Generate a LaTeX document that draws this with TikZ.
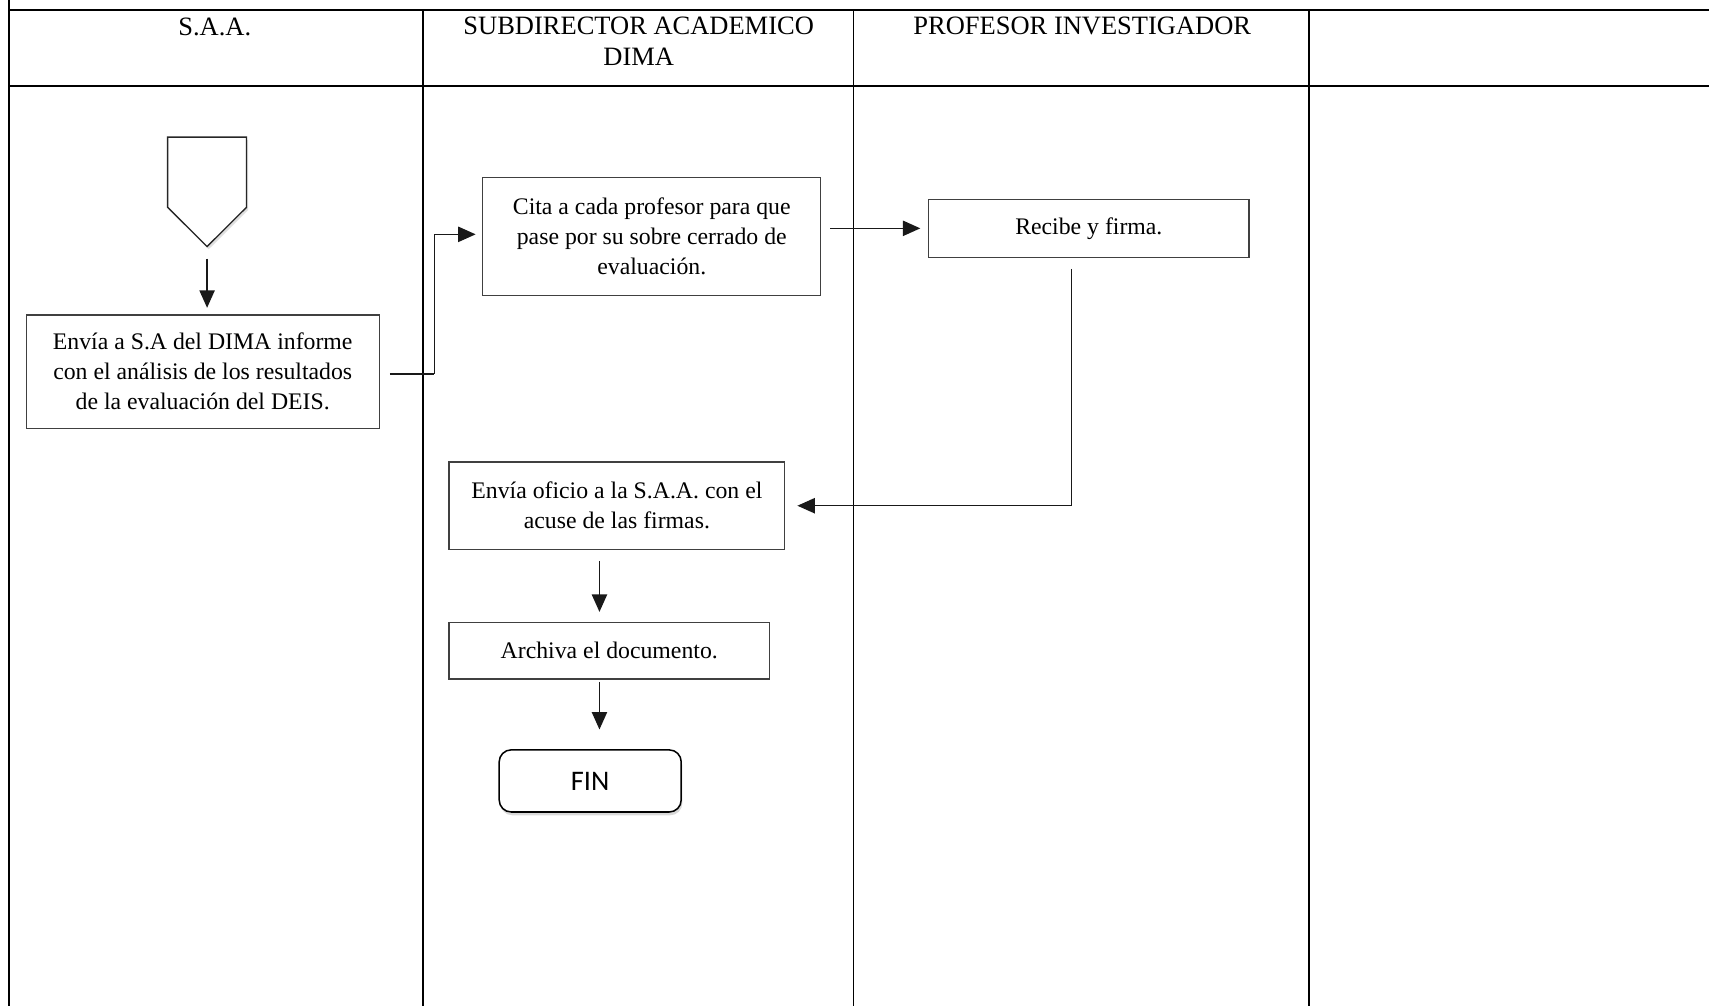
\documentclass[tikz,border=0pt]{standalone}
\usepackage{fontspec}
\setmainfont{Liberation Serif}
\newfontfamily\calibrifont{Carlito}
\usetikzlibrary{arrows.meta,shadows}
\begin{document}
\begin{tikzpicture}[x=1pt,y=1pt,
  grid/.style={line width=1.6pt,black},
  lane/.style={line width=1.2pt,black},
  procbox/.style={draw=black!75,line width=1.2pt,rectangle,align=center,
    font=\fontsize{21.8}{27.5}\selectfont,inner sep=0pt},
  head/.style={align=center,font=\fontsize{24.3}{28}\selectfont,anchor=north,inner sep=0pt},
  arr/.style={draw=black!90,line width=1.3pt,-{Triangle[length=16pt,width=14pt]}},
  link/.style={draw=black!90,line width=1.3pt}]

% page frame and margins
\useasboundingbox (0,0) rectangle (1568,-923);

% lane grid
\draw[grid] (8,0) -- (8,-923);
\draw[grid] (8,-9) -- (1568,-9);
\draw[grid] (8,-79) -- (1568,-79);
\draw[lane] (388,-9) -- (388,-923);
\draw[lane] (783,-9) -- (783,-923);
\draw[grid] (1201,-9) -- (1201,-923);

% lane titles
\node[head] (h1) at (197,-16) {S.A.A.};
\node[head] (h2) at (586,-15.5) {SUBDIRECTOR ACADEMICO\\DIMA};
\node[head] (h3) at (993,-15.5) {PROFESOR INVESTIGADOR};

% off-page connector
\node[minimum width=72pt,minimum height=100pt,inner sep=0pt] (off) at (190,-176) {};
\filldraw[fill=white,draw=black!85,line width=1.2pt,
  drop shadow={opacity=0.25,shadow xshift=1.5pt,shadow yshift=-2.5pt}]
  (off.north west) -- (off.north east) -- ([yshift=36pt]off.south east)
  -- (off.south) -- ([yshift=36pt]off.south west) -- cycle;

% process steps
\node[procbox,minimum width=324pt,minimum height=104pt] (b1) at (186,-341)
  {Envía a S.A del DIMA informe\\con el análisis de los resultados\\de la evaluación del DEIS.};
\node[procbox,minimum width=310pt,minimum height=108pt] (b2) at (598,-217)
  {Cita a cada profesor para que\\pase por su sobre cerrado de\\evaluación.};
\node[procbox,minimum width=294pt,minimum height=53pt] (b3) at (999,-209.5)
  {Recibe y firma.};
\node[procbox,minimum width=308pt,minimum height=80pt] (b4) at (566,-464)
  {Envía oficio a la S.A.A. con el\\acuse de las firmas.};
\node[procbox,minimum width=294pt,minimum height=52pt] (b5) at (559,-597)
  {Archiva el documento.};
\node[draw=black,line width=1.4pt,rounded corners=11pt,fill=white,
  minimum width=167pt,minimum height=57pt,inner sep=0pt,
  font=\calibrifont\fontsize{26}{28}\selectfont,
  drop shadow={opacity=0.3,shadow xshift=1pt,shadow yshift=-3pt}] (fin) at (541.5,-716.5) {FIN};

% connectors
\draw[arr,shorten <=11pt,shorten >=6pt] (off.south) -- (off.south |- b1.north);
\draw[link] ([xshift=9pt,yshift=-2pt]b1.east) -- ++(41,0) coordinate (k1);
\draw[arr] (k1) |- ([xshift=-6pt,yshift=2pt]b2.west);
\draw[arr,shorten <=8pt,shorten >=7pt] (b3.west -| b2.east) -- (b3.west);
\draw[arr] ([xshift=-16pt,yshift=-10pt]b3.south) |- ([xshift=11pt]b4.east);
\draw[arr,shorten <=10pt,shorten >=9pt] ([xshift=-16pt]b4.south) -- ([xshift=-16pt]b4.south |- b5.north);
\draw[arr,shorten <=2pt,shorten >=18pt] ([xshift=-9pt]b5.south) -- ([xshift=-9pt]b5.south |- fin.north);
\end{tikzpicture}
\end{document}
